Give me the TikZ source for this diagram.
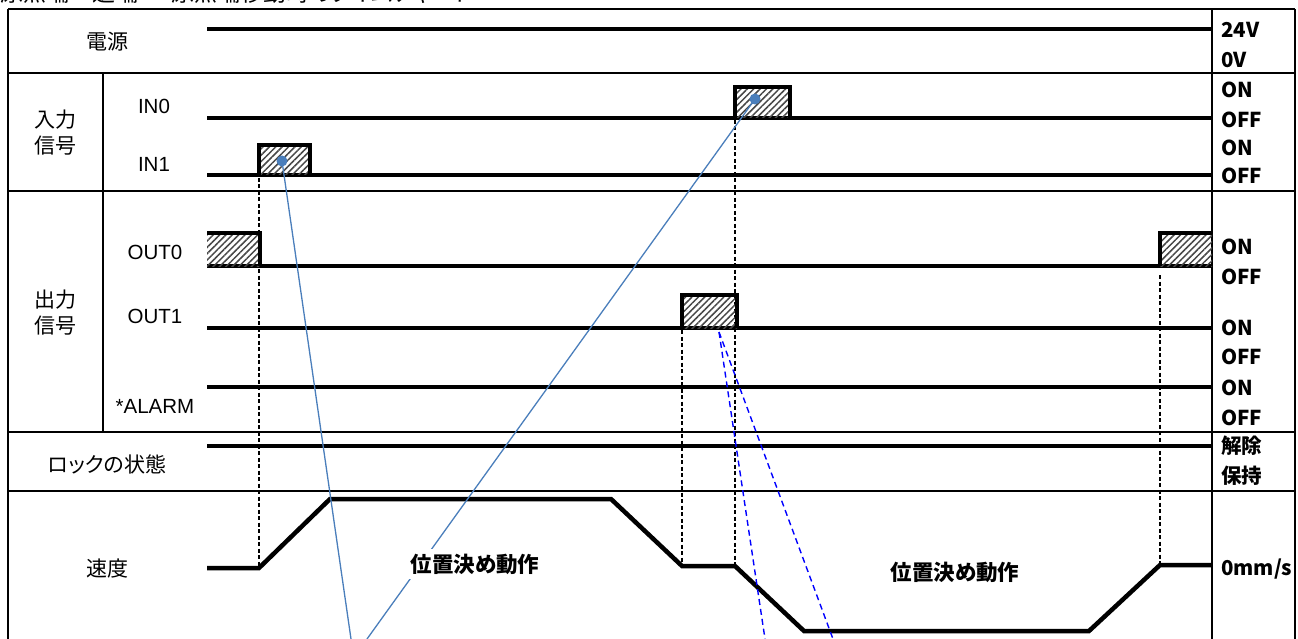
\documentclass[tikz,border=0pt]{standalone}
\usepackage{fontspec}
\setmainfont[RawFeature=+palt]{Noto Sans CJK JP}
\newfontfamily\latinfont{Liberation Sans}
\usetikzlibrary{patterns.meta}

\definecolor{leadblue}{RGB}{74,126,187}

\tikzset{
  boxline/.style={line width=2pt},
  sigline/.style={line width=4.5pt, line join=miter},
  hatchfill/.style={pattern={Lines[angle=45, distance=4.5pt, line width=1.5pt]}, pattern color=black!72},
  guideline/.style={line width=1.1pt, dash pattern=on 4pt off 2.5pt},
  leader/.style={leadblue, line width=1.3pt},
  leaderdash/.style={blue, line width=1.4pt, dash pattern=on 6pt off 4pt},
  rowlbl/.style={font=\fontsize{21}{26}\selectfont, align=center},
  siglbl/.style={font=\latinfont\fontsize{20.5}{24}\selectfont},
  statelbl/.style={anchor=west, inner sep=0pt, font=\bfseries\fontsize{20.5}{24}\selectfont},
  notelbl/.style={font=\bfseries\fontsize{21.5}{24}\selectfont},
}

\begin{document}
\begin{tikzpicture}[x=1pt, y=-1pt]

    \useasboundingbox (0,0) rectangle (1298,639);
    \clip (0,0) rectangle (1298,639);

    % Title, cut off by the top edge
    \node[anchor=base west, inner sep=0pt, font=\fontsize{23}{23}\selectfont] (title) at (0,2)
        {原点端→逆端 → 原点端移動時のタイムチャート};

    % Frame and row dividers
    \draw[boxline] (8,9) -- (1295,9);
    \draw[boxline] (8,9) -- (8,639);
    \draw[boxline] (1295,9) -- (1295,639);
    \draw[boxline] (1212,9) -- (1212,639);
    \draw[boxline] (103,73) -- (103,432);
    \foreach \yy in {73, 191, 432, 491}{
        \draw[boxline] (8,\yy) -- (1295,\yy);
    }

    % Row labels
    \node[rowlbl] (power) at (107,42) {電源};
    \node[rowlbl] (inputs) at (55,133) {入力\\信号};
    \node[rowlbl] (outputs) at (55,313) {出力\\信号};
    \node[rowlbl] (lock) at (107,464) {ロックの状態};
    \node[rowlbl] (speed) at (107,569) {速度};

    % Signal names
    \node[siglbl] (in0) at (154,106) {IN0};
    \node[siglbl] (in1) at (154,164) {IN1};
    \node[siglbl] (out0) at (155,252) {OUT0};
    \node[siglbl] (out1) at (155,316) {OUT1};
    \node[siglbl] (alarm) at (155,406) {*ALARM};

    % Timing guides
    \draw[guideline] (259,178) -- (259,568);
    \draw[guideline] (735,120) -- (735,566);
    \draw[guideline] (682,330) -- (682,566);
    \draw[guideline] (1160,275) -- (1160,565);

    % Signal levels
    \foreach \yy in {29, 118, 175, 266, 328, 387, 446}{
        \draw[sigline] (207,\yy) -- (1212,\yy);
    }

    % Pulses
    \foreach \xa/\xb/\yt/\yb in {259/310/145/175, 735/790/87/118, 682/737/295/328}{
        \fill[hatchfill] (\xa,\yt) rectangle (\xb,\yb);
        \draw[sigline] (\xa,\yb) |- (\xb,\yt) -- (\xb,\yb);
    }
    \fill[hatchfill] (207,233) rectangle (260,266);
    \draw[sigline] (207,233) -| (260,266);
    \fill[hatchfill] (1160,233) rectangle (1212,266);
    \draw[sigline] (1160,266) |- (1212,233);

    % Speed profile
    \draw[sigline] (207,568) -- (259,568) -- (330,499) -- (611,499) -- (682,566)
        -- (735,566) -- (804,631) -- (1089,631) -- (1160,565) -- (1212,565);

    % Leaders
    \node[circle, fill=leadblue, inner sep=0pt, minimum size=11pt] (dotin1) at (282,161) {};
    \node[circle, fill=leadblue, inner sep=0pt, minimum size=11pt] (dotin0) at (755,99) {};
    \coordinate (endin1) at (351,639);
    \coordinate (endin0) at (367,639);
    \draw[leader] (dotin1.center) -- (endin1);
    \draw[leader] (dotin0.center) -- (endin0);
    \coordinate (out1tap) at (719,332);
    \coordinate (enda) at (765,639);
    \coordinate (endb) at (833,639);
    \draw[leaderdash] (out1tap) -- (enda);
    \draw[leaderdash] (out1tap) -- (endb);

    % Motion notes
    \node[notelbl, fill=white, inner sep=5pt] (move1) at (475,564) {位置決め動作};
    \node[notelbl] (move2) at (955,572) {位置決め動作};

    % Level names
    \foreach \txt/\yy [count=\i] in {24V/29.5, 0V/60, ON/90, OFF/119.5, ON/147.5, OFF/175.5,
        ON/247, OFF/276.5, ON/327.5, OFF/356.5, ON/387.5, OFF/417.5, 解除/446, 保持/476}{
        \node[statelbl] (state\i) at (1221,\yy) {\txt};
    }
    \node[statelbl] (zerospeed) at (1221,569.5) {0mm/s};

\end{tikzpicture}
\end{document}
